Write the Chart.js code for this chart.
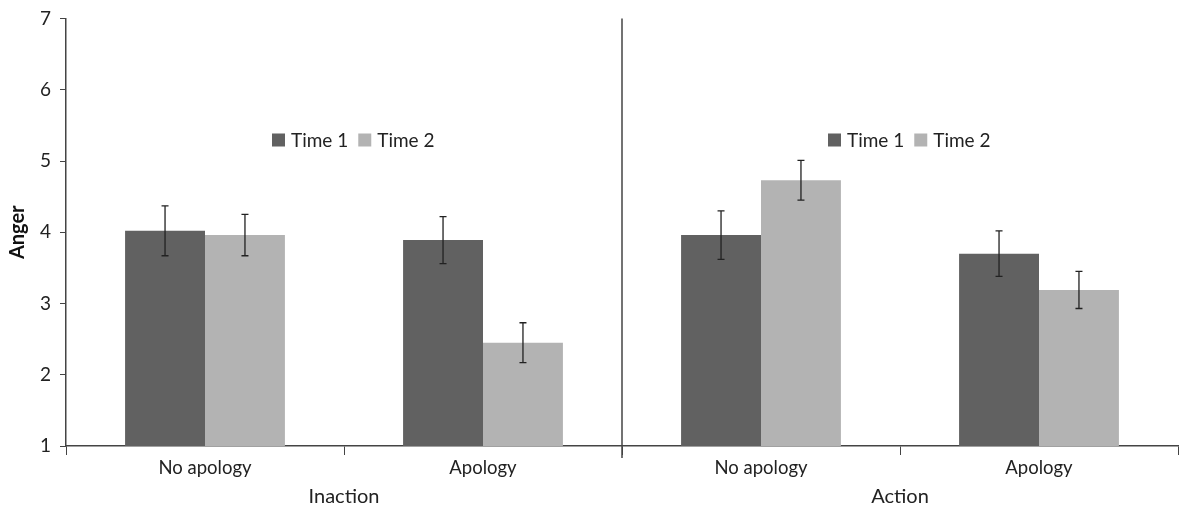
<!DOCTYPE html>
<html>
<head>
<meta charset="utf-8">
<script src="https://cdn.jsdelivr.net/npm/chart.js@4/dist/chart.umd.min.js"></script>
<style>
  html, body { margin: 0; padding: 0; background: #fff; }
  #wrap { width: 1179px; height: 510px; position: relative; }
</style>
</head>
<body>
<div id="wrap"><canvas id="angerChart"></canvas></div>
<script>
const categories = ['No apology', 'Apology', 'No apology', 'Apology'];
const groups = ['Inaction', 'Action'];
const seriesNames = ['Time 1', 'Time 2'];
const time1 = [4.02, 3.89, 3.96, 3.70];
const time2 = [3.96, 2.45, 4.73, 3.19];
const time1Err = [0.35, 0.33, 0.34, 0.32];
const time2Err = [0.29, 0.28, 0.28, 0.26];
const yTicks = [1, 2, 3, 4, 5, 6, 7];

const darkGrey = '#616161';
const lightGrey = '#b3b3b3';
const axisColor = '#444';
const fontFamily = 'Lato, "Open Sans", sans-serif';

// error bars + group divider + group labels + the two inline legends
const extrasPlugin = {
    id: 'extras',
    afterDatasetsDraw(chart) {
        const ctx = chart.ctx;
        const y = chart.scales.y;
        const x = chart.scales.x;
        const area = chart.chartArea;
        const errs = [time1Err, time2Err];

        ctx.save();
        ctx.strokeStyle = '#222';
        ctx.lineWidth = 1.3;
        chart.data.datasets.forEach((ds, di) => {
            const meta = chart.getDatasetMeta(di);
            meta.data.forEach((bar, i) => {
                const v = ds.data[i];
                const top = y.getPixelForValue(v + errs[di][i]);
                const bot = y.getPixelForValue(v - errs[di][i]);
                ctx.beginPath();
                ctx.moveTo(bar.x, top);
                ctx.lineTo(bar.x, bot);
                ctx.moveTo(bar.x - 3.5, top);
                ctx.lineTo(bar.x + 3.5, top);
                ctx.moveTo(bar.x - 3.5, bot);
                ctx.lineTo(bar.x + 3.5, bot);
                ctx.stroke();
            });
        });

        // divider between Inaction and Action
        const mid = (x.getPixelForValue(1) + x.getPixelForValue(2)) / 2;
        ctx.strokeStyle = axisColor;
        ctx.lineWidth = 1.5;
        ctx.beginPath();
        ctx.moveTo(mid, area.top);
        ctx.lineTo(mid, area.bottom + 12);
        ctx.stroke();

        // group labels
        ctx.fillStyle = '#222';
        ctx.font = '20px ' + fontFamily;
        ctx.textAlign = 'center';
        ctx.textBaseline = 'middle';
        const centers = [(area.left + mid) / 2, (mid + area.right) / 2];
        groups.forEach((g, gi) => ctx.fillText(g, centers[gi], 497));

        // legends, one per panel
        ctx.font = '19px ' + fontFamily;
        ctx.textAlign = 'left';
        const colors = [darkGrey, lightGrey];
        const legendY = area.top + 121;
        centers.forEach(c => {
            let lx = c - 72;
            seriesNames.forEach((name, si) => {
                ctx.fillStyle = colors[si];
                ctx.fillRect(lx, legendY - 6, 13, 13);
                ctx.fillStyle = '#222';
                ctx.fillText(name, lx + 19, legendY + 1);
                lx += 19 + ctx.measureText(name).width + 10;
            });
        });
        ctx.restore();
    }
};

new Chart(document.getElementById('angerChart'), {
    type: 'bar',
    data: {
        labels: categories,
        datasets: [
            { label: seriesNames[0], data: time1, backgroundColor: darkGrey },
            { label: seriesNames[1], data: time2, backgroundColor: lightGrey }
        ]
    },
    options: {
        responsive: true,
        maintainAspectRatio: false,
        animation: false,
        layout: { padding: { top: 18, right: 1 } },
        datasets: { bar: { categoryPercentage: 0.575, barPercentage: 1.0 } },
        plugins: { legend: { display: false }, tooltip: { enabled: false } },
        scales: {
            x: {
                grid: {
                    offset: true,
                    drawOnChartArea: false,
                    drawTicks: true,
                    tickLength: 9,
                    color: axisColor
                },
                border: { color: axisColor, width: 1.5 },
                ticks: { color: '#222', font: { family: fontFamily, size: 18.5 }, padding: 2 },
                afterFit(scale) { scale.height = 64; }
            },
            y: {
                min: 1,
                max: 7,
                afterBuildTicks(scale) { scale.ticks = yTicks.map(v => ({ value: v })); },
                grid: {
                    drawOnChartArea: false,
                    drawTicks: true,
                    tickLength: 6,
                    color: axisColor
                },
                border: { color: axisColor, width: 1.5 },
                ticks: { color: '#222', font: { family: fontFamily, size: 19, lineHeight: 1 }, padding: 9 },
                title: {
                    display: true,
                    text: 'Anger',
                    color: '#111',
                    font: { family: fontFamily, size: 20, weight: 'bold' },
                    padding: { top: 6, bottom: 0 }
                },
                afterFit(scale) { scale.width = 66; }
            }
        }
    },
    plugins: [extrasPlugin]
});
</script>
</body>
</html>
